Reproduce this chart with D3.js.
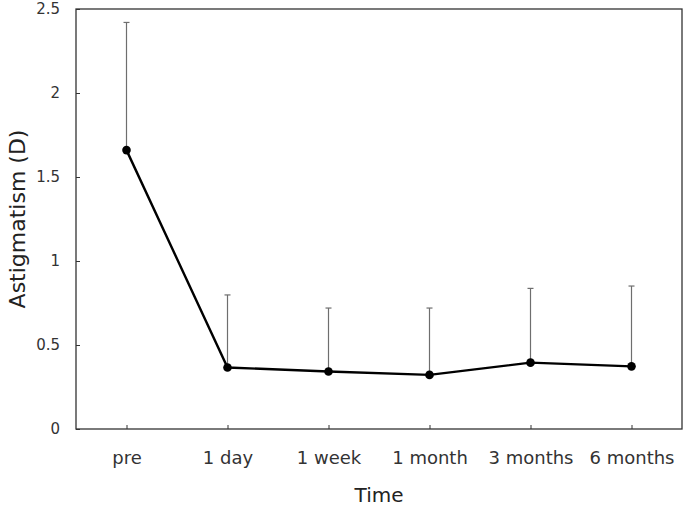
<!DOCTYPE html>
<html lang="en">
<head>
    <meta charset="UTF-8">
    <title>Astigmatism over time</title>
    <style>
        body{ margin:0; background:#fff; }
        svg{ display:block; }
        .axis text{ font-family:"DejaVu Sans", sans-serif; fill:#333; }
        .axis line, .axis path{ stroke:#333; }
        .label{ font-family:"DejaVu Sans", sans-serif; fill:#222; }
        .meanLine{ fill:none; stroke:#000; stroke-width:2.4px; }
        .errBar{ stroke:#6e6e6e; stroke-width:1.2px; }
    </style>
    <script src="https://cdn.jsdelivr.net/npm/d3@7"></script>
</head>
<body>
<script>
    const timePoints = ["pre", "1 day", "1 week", "1 month", "3 months", "6 months"];
    const meanValues = [1.66, 0.366, 0.342, 0.322, 0.395, 0.373];
    const upperValues = [2.42, 0.798, 0.72, 0.72, 0.837, 0.851];
    const yTicks = [0, 0.5, 1, 1.5, 2, 2.5];

    const width = 685, height = 507;
    const margins = {top: 9, left: 76, right: 3, bottom: 78};

    const svg = d3.select("body").append("svg")
        .attr("width", width).attr("height", height);

    const data = timePoints.map((t, i) => ({t: t, mean: meanValues[i], upper: upperValues[i]}));

    const xScale = d3.scalePoint()
        .domain(timePoints)
        .range([margins.left, width - margins.right])
        .padding(0.5);

    const yScale = d3.scaleLinear()
        .domain([0, 2.5])
        .range([height - margins.bottom, margins.top]);

    // frame
    svg.append("rect")
        .attr("x", margins.left).attr("y", margins.top)
        .attr("width", width - margins.right - margins.left)
        .attr("height", height - margins.bottom - margins.top)
        .attr("fill", "none").attr("stroke", "#333").attr("stroke-width", 1.3);

    // x axis, ticks pointing in
    const xAxis = svg.append("g").attr("class", "axis")
        .attr("transform", `translate(0,${height - margins.bottom})`)
        .call(d3.axisBottom(xScale).tickSizeInner(-4).tickSizeOuter(0).tickPadding(22));
    xAxis.select(".domain").remove();
    xAxis.selectAll("text").style("font-size", "18px");

    // y axis
    const yAxis = svg.append("g").attr("class", "axis")
        .attr("transform", `translate(${margins.left},0)`)
        .call(d3.axisLeft(yScale).tickValues(yTicks).tickFormat(d3.format("~g"))
            .tickSizeInner(-4).tickSizeOuter(0).tickPadding(16));
    yAxis.select(".domain").remove();
    yAxis.selectAll("text").style("font-size", "15px");

    // error bars (upper only)
    const err = svg.append("g");
    err.selectAll("line.v").data(data).enter().append("line")
        .attr("class", "errBar")
        .attr("x1", d => xScale(d.t)).attr("x2", d => xScale(d.t))
        .attr("y1", d => yScale(d.mean)).attr("y2", d => yScale(d.upper));
    err.selectAll("line.c").data(data).enter().append("line")
        .attr("class", "errBar")
        .attr("x1", d => xScale(d.t) - 3).attr("x2", d => xScale(d.t) + 3)
        .attr("y1", d => yScale(d.upper)).attr("y2", d => yScale(d.upper));

    // mean line
    const lineGen = d3.line()
        .x(d => xScale(d.t))
        .y(d => yScale(d.mean));
    svg.append("path")
        .datum(data)
        .attr("class", "meanLine")
        .attr("d", lineGen);

    svg.append("g").selectAll("circle").data(data).enter().append("circle")
        .attr("cx", d => xScale(d.t))
        .attr("cy", d => yScale(d.mean))
        .attr("r", 4.3)
        .attr("fill", "#000");

    // axis labels
    svg.append("text")
        .attr("class", "label")
        .attr("transform", `translate(25,${(margins.top + height - margins.bottom) / 2}) rotate(-90)`)
        .style("text-anchor", "middle")
        .style("font-size", "22px")
        .text("Astigmatism (D)");

    svg.append("text")
        .attr("class", "label")
        .attr("transform", `translate(${(margins.left + width - margins.right) / 2},502)`)
        .style("text-anchor", "middle")
        .style("font-size", "20px")
        .text("Time");
</script>
</body>
</html>
